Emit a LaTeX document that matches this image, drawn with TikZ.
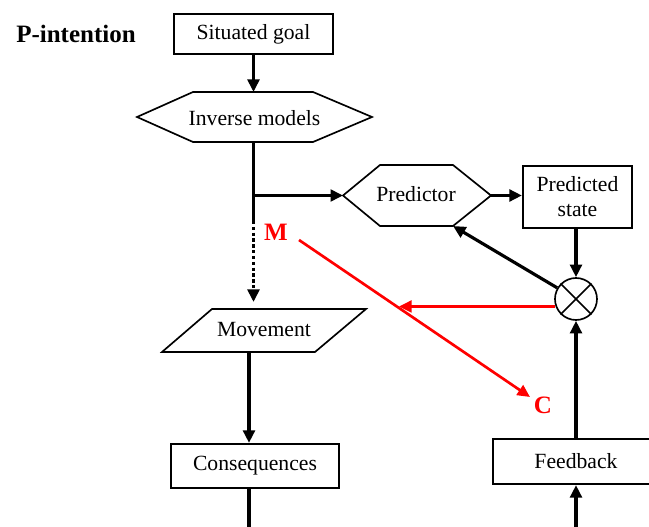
\documentclass[tikz,border=0pt]{standalone}
\usepackage{fontspec}
\setmainfont{Liberation Serif}
\usetikzlibrary{arrows.meta}

\begin{document}
\begin{tikzpicture}[x=0.6pt,y=0.6pt,yscale=-1,xscale=1,
  every node/.style={font=\fontsize{13}{15}\selectfont},
  box/.style={draw, line width=1.3pt, inner sep=2pt, align=center},
  outline/.style={line width=1pt},
  arr/.style={line width=1.9pt, -{Triangle[length=7.5pt,width=7pt]}},
  redarr/.style={arr, red, line width=1.6pt},
  mark label/.style={text=red, font=\fontsize{15}{17}\selectfont\bfseries}]
\useasboundingbox (0,0) rectangle (649,527);

% Text Node
\node[font=\fontsize{15}{18}\selectfont\bfseries] (title) at (76,34) {P-intention};

%Flowchart: Process
\node[box, minimum width=95.4pt, minimum height=24pt] (goal) at (253.5,34) {Situated goal};
%Flowchart: Preparation
\draw[outline] (137,117) -- (193,92) -- (313,92) -- (372,117) -- (313,142) -- (193,142) -- cycle;
\node (inv) at (254.5,118) {Inverse models};
\coordinate (inv-n) at (253.5,92);
\coordinate (inv-s) at (253.5,142);
%Flowchart: Preparation
\draw[outline] (343,195.5) -- (380,165) -- (453,165) -- (491,195.5) -- (453,226) -- (380,226) -- cycle;
\node (pred) at (416,194) {Predictor};
\coordinate (pred-w) at (343,195.5);
\coordinate (pred-e) at (491,195.5);
\coordinate (pred-se) at (453,226);
%Flowchart: Process
\node[box, minimum width=65.4pt, minimum height=37.2pt] (state) at (577.5,197) {Predicted\\state};
%Flowchart: Summing Junction
\node[draw, circle, outline, minimum size=25.2pt, inner sep=0pt] (sum) at (576,299) {};
\draw[outline] (sum.north west) -- (sum.south east) (sum.north east) -- (sum.south west);
%Flowchart: Data
\draw[outline] (212,309) -- (366,309) -- (315,352) -- (162,352) -- cycle;
\node (move) at (264,330) {Movement};
\coordinate (move-n) at (253.5,302);
\coordinate (move-s) at (249,352);
\coordinate (split) at (253.5,221);
%Flowchart: Process
\node[box, minimum width=100.8pt, minimum height=26.4pt] (cons) at (255,466) {Consequences};
\coordinate (cons-out) at (249,527);
%Flowchart: Process
\node[box, minimum width=99.6pt, minimum height=27pt] (fb) at (576,461.5) {Feedback};
\coordinate (fb-in) at (576,527);

% Red marks
\node[mark label] (m) at (276,232) {M};
\node[mark label] (c) at (543,405) {C};
\coordinate (m-out) at (299,240);
\coordinate (c-in) at (530,397);
\coordinate (red-end) at (399,307);

%Straight Lines
\draw[arr] (goal.south) -- (inv-n);
\draw[arr] (inv-s) |- (pred-w);
\draw[line width=1.9pt] (inv-s) -- (split);
\draw[arr, dash pattern=on 2pt off 1.5pt] (split) -- (move-n);
\draw[arr] (pred-e) -- (pred-e -| state.west);
\draw[arr] (state.south -| sum) -- (sum.north);
\draw[arr] (sum) -- (pred-se);
\draw[redarr] (sum.200) -- (sum.200 -| red-end);
\draw[redarr] (m-out) -- (c-in);
\draw[arr] (move-s) -- (move-s |- cons.north);
\draw[line width=1.9pt] (move-s |- cons.south) -- (cons-out);
\draw[arr] (fb-in) -- (fb.south);
\draw[arr] (fb.north) -- (sum.south);

\end{tikzpicture}
\end{document}
